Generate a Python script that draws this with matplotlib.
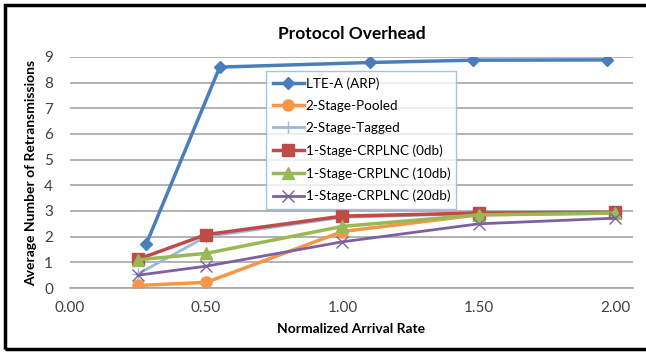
import matplotlib.pyplot as plt
from matplotlib.patches import Rectangle

# data
rate = [0.25, 0.50, 1.00, 1.50, 2.00]
lte_rate = [0.28, 0.55, 1.10, 1.48, 1.97]
lte_arp = [1.7, 8.6, 8.78, 8.87, 8.88]
pooled = [0.1, 0.22, 2.2, 2.85, 2.92]
tagged = [0.55, 2.0, 2.75, 2.9, 2.95]
crplnc_0 = [1.12, 2.08, 2.8, 2.92, 2.95]
crplnc_10 = [1.1, 1.35, 2.4, 2.85, 2.92]
crplnc_20 = [0.5, 0.85, 1.8, 2.5, 2.72]
xticks = [0.0, 0.5, 1.0, 1.5, 2.0]
yticks = list(range(10))

plt.rcParams['font.family'] = ['Lato', 'DejaVu Sans']

fig = plt.figure(figsize=(6.46, 3.53), dpi=100)
ax = fig.add_axes([0.108, 0.184, 0.872, 0.655])

ax.plot(lte_rate, lte_arp, color='#4A7EBB', marker='D', markersize=6, linewidth=2.5, label='LTE-A (ARP)')
ax.plot(rate, pooled, color='#F79646', marker='o', markersize=8, linewidth=2.5, label='2-Stage-Pooled')
ax.plot(rate, tagged, color='#9CB8DA', marker='+', markersize=8, linewidth=2, label='2-Stage-Tagged')
ax.plot(rate, crplnc_0, color='#BE4B48', marker='s', markersize=8, linewidth=2.5, label='1-Stage-CRPLNC (0db)')
ax.plot(rate, crplnc_10, color='#98B954', marker='^', markersize=8, linewidth=2.5, label='1-Stage-CRPLNC (10db)')
ax.plot(rate, crplnc_20, color='#7D60A0', marker='x', markersize=8, linewidth=2, label='1-Stage-CRPLNC (20db)')

ax.set_xlim(0, 2.066)
ax.set_ylim(0, 9)
ax.set_xticks(xticks)
ax.set_xticklabels(['%.2f' % x for x in xticks])
ax.set_yticks(yticks)
ax.grid(axis='y', color='#A6A6A6', linewidth=1.2)
ax.set_axisbelow(True)
for s in ['top', 'right', 'left']:
    ax.spines[s].set_visible(False)
ax.spines['bottom'].set_color('#A6A6A6')
ax.spines['bottom'].set_linewidth(1.2)
ax.tick_params(length=0, labelsize=11, colors='#404040', pad=9)
ax.tick_params(axis='y', pad=12)

ax.set_title('Protocol Overhead', fontsize=12.5, fontweight='bold', pad=13)
ax.set_xlabel('Normalized Arrival Rate', fontsize=10, fontweight='bold', labelpad=6)
ax.set_ylabel('Average Number of Retransmissions', fontsize=10, fontweight='bold', labelpad=5)

leg = ax.legend(loc='upper left', bbox_to_anchor=(0.342, 0.956), fontsize=9.7, frameon=True,
                fancybox=False, edgecolor='#8EB4E3', borderpad=0.45, labelspacing=0.76,
                handlelength=2.3, handletextpad=0.15, borderaxespad=0.3)
leg.get_frame().set_linewidth(1.0)

# black frame around the figure (right edge is cut off in the picture)
fig.patches.append(Rectangle((5 / 646, 4 / 353), 1.0, 1 - 9 / 353, transform=fig.transFigure,
                             fill=False, edgecolor='black', linewidth=2.5))

fig.savefig('out.png', dpi=100)
